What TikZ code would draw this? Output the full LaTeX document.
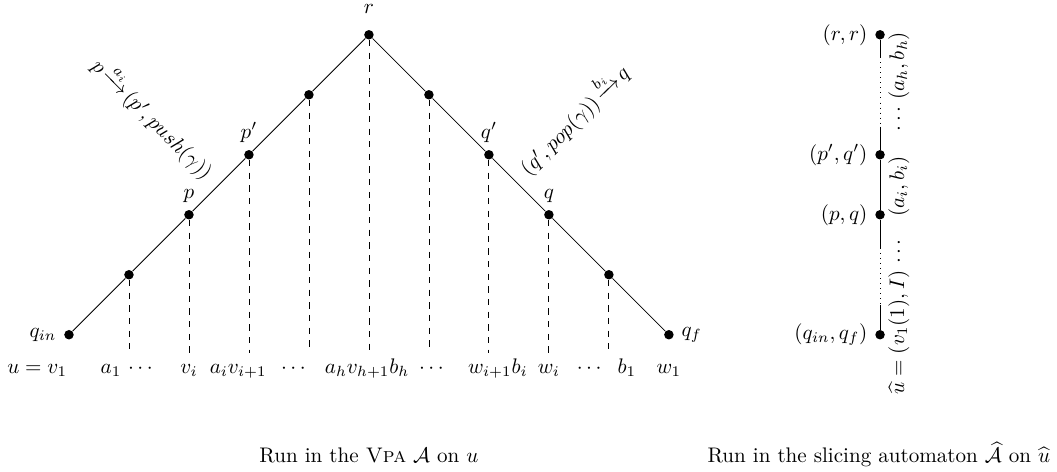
\documentclass[tikz,border=0pt]{standalone}
\usepackage{amsmath}
\begin{document}
\begin{tikzpicture}[
    estado/.style={circle,fill,inner sep=0pt,minimum size=4.5pt},
    projecao/.style={dashed},
    legenda/.style={anchor=base},
    rotulo/.style={anchor=base,rotate=90}
]
\useasboundingbox (-1.15,-2.28) rectangle (16.47,5.58);

\node[estado,label=left:$q_{in}$] (qin) at (0,0) {};
\node[estado] (s1) at (1,1) {};
\node[estado,label=above:$p$] (p) at (2,2) {};
\node[estado,label=above:$p'$] (pp) at (3,3) {};
\node[estado] (s4) at (4,4) {};
\node[estado,label={[label distance=4pt]above:$r$}] (r) at (5,5) {};
\node[estado] (s6) at (6,4) {};
\node[estado,label=above:$q'$] (qq) at (7,3) {};
\node[estado,label=above:$q$] (q) at (8,2) {};
\node[estado] (s9) at (9,1) {};
\node[estado,label=right:$q_f$] (qf) at (10,0) {};

\draw (qin) -- (s1) -- (p) -- (pp) -- (s4) -- (r) -- (s6) -- (qq) -- (q) -- (s9) -- (qf);

\coordinate (b1) at (1,-0.3);
\coordinate (b2) at (2,-0.3);
\coordinate (b3) at (3,-0.3);
\coordinate (b4) at (4,-0.3);
\coordinate (b5) at (5,-0.3);
\coordinate (b6) at (6,-0.3);
\coordinate (b7) at (7,-0.3);
\coordinate (b8) at (8,-0.3);
\coordinate (b9) at (9,-0.3);

\draw[projecao] (s1) -- (b1);
\draw[projecao] (p) -- (b2);
\draw[projecao] (pp) -- (b3);
\draw[projecao] (s4) -- (b4);
\draw[projecao] (r) -- (b5);
\draw[projecao] (s6) -- (b6);
\draw[projecao] (qq) -- (b7);
\draw[projecao] (q) -- (b8);
\draw[projecao] (s9) -- (b9);

\node[legenda] (l0) at (-0.53,-0.65) {$u=v_1$};
\node[legenda] (l1) at (0.7,-0.65) {$a_1$};
\node[legenda] (l2) at (1.22,-0.65) {$\cdots$};
\node[legenda] (l3) at (2.0,-0.65) {$v_i$};
\node[legenda] (l4) at (2.82,-0.65) {$a_iv_{i+1}$};
\node[legenda] (l5) at (3.77,-0.65) {$\cdots$};
\node[legenda] (l6) at (4.97,-0.65) {$a_hv_{h+1}b_h$};
\node[legenda] (l7) at (6.07,-0.65) {$\cdots$};
\node[legenda] (l8) at (7.15,-0.65) {$w_{i+1}b_i$};
\node[legenda] (l9) at (8.0,-0.65) {$w_i$};
\node[legenda] (l10) at (8.7,-0.65) {$\cdots$};
\node[legenda] (l11) at (9.3,-0.65) {$b_1$};
\node[legenda] (l12) at (10.0,-0.65) {$w_1$};

\node[rotate=-45] (push) at (1.4,3.6) {$p\!\xrightarrow{a_i}\!(p',push(\gamma))$};
\node[rotate=45] (pop) at (8.4,3.6) {$(q',pop(\gamma))\!\xrightarrow{b_i}\!q$};

\node[estado,label={left:$(r,r)$}] (rr) at (13.52,5) {};
\coordinate (c1) at (13.52,4.63);
\coordinate (c2) at (13.52,3.47);
\node[estado,label={left:$(p',q')$}] (ppqq) at (13.52,3) {};
\node[estado,label={left:$(p,q)$}] (pq) at (13.52,2) {};
\coordinate (c3) at (13.52,1.45);
\coordinate (c4) at (13.52,0.5);
\node[estado,label={left:$(q_{in},q_f)$}] (qinqf) at (13.52,0) {};

\draw (rr) -- (c1);
\draw[dotted] (c1) -- (c2);
\draw (c2) -- (ppqq) -- (pq) -- (c3);
\draw[dotted] (c3) -- (c4);
\draw (c4) -- (qinqf);

\node[rotulo] (u0) at (13.92,0.33) {$\widehat{u}=(v_1(1),I)\,\cdots$};
\node[rotulo] (ab) at (13.92,2.47) {$(a_i,b_i)$};
\node[rotulo] (ahbh) at (13.92,4.22) {$\cdots\,(a_h,b_h)$};

\node[legenda] (cap1) at (5,-2.13) {Run in the \textsc{Vpa} $\mathcal{A}$ on $u$};
\node[legenda] (cap2) at (13.5,-2.13) {Run in the slicing automaton $\widehat{\mathcal{A}}$ on $\widehat{u}$};
\end{tikzpicture}
\end{document}
